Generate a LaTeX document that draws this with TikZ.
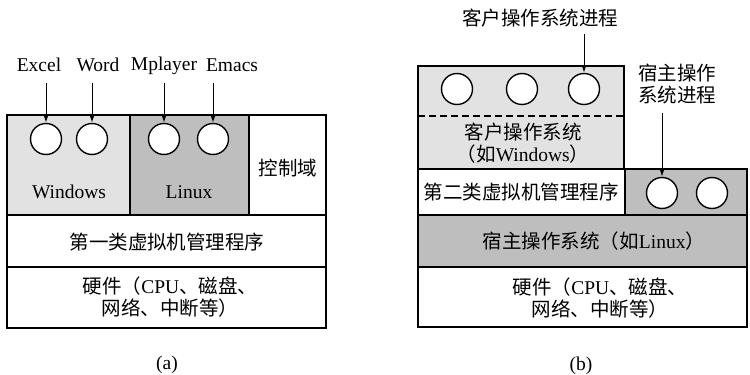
\documentclass[tikz,border=0pt]{standalone}
\usepackage{fontspec}
\setmainfont{Liberation Serif}
\newfontfamily\cjk{Noto Sans CJK SC}
\usetikzlibrary{arrows.meta}
\definecolor{lightg}{RGB}{226,226,226}
\definecolor{darkg}{RGB}{190,190,190}
\newcommand{\zhtxt}[1]{{\cjk #1}}
\begin{document}
\begin{tikzpicture}[x=1pt,y=-1pt,
  box/.style={draw,line width=1.4pt},
  proc/.style={circle,draw,fill=white,line width=1.4pt,minimum size=31pt,inner sep=0pt},
  lbl/.style={font=\fontsize{19.5}{22}\selectfont,align=center,inner sep=0pt},
  arr/.style={-{Latex[length=7pt,width=4.5pt]},line width=1pt}]
\useasboundingbox (0,0) rectangle (750,375);
% ---------- (a) ----------
\draw[box,fill=lightg] (7,115) rectangle (130,215);
\draw[box,fill=darkg] (130,115) rectangle (249,215);
\draw[box,fill=white] (249,115) rectangle (326,215);
\draw[box,fill=white] (7,215) rectangle (326,267);
\draw[box,fill=white] (7,267) rectangle (326,328);
\node[proc] (a1) at (46,139) {};
\node[proc] (a2) at (92,139) {};
\node[proc] (a3) at (164,139) {};
\node[proc] (a4) at (213,139) {};
\node[lbl] (lexcel) at (39,65) {Excel};
\node[lbl] (lword) at (98,65) {Word};
\node[lbl] (lmplayer) at (164,66) {Mplayer};
\node[lbl] (lemacs) at (232,65) {Emacs};
\coordinate (s1) at (46,83);
\coordinate (s2) at (92,83);
\coordinate (s3) at (164,83);
\coordinate (s4) at (213,83);
\draw[arr] (s1) -- (a1.north);
\draw[arr] (s2) -- (a2.north);
\draw[arr] (s3) -- (a3.north);
\draw[arr] (s4) -- (a4.north);
\node[lbl] (win) at (69,192) {Windows};
\node[lbl] (lin) at (189,192) {Linux};
\node[lbl] (ctrl) at (288,168) {\zhtxt{控制域}};
\node[lbl] (hv1) at (167,242) {\zhtxt{第一类虚拟机管理程序}};
\node[lbl] (hwa) at (170,297) {\zhtxt{硬件（}CPU\zhtxt{、磁盘、}\\\zhtxt{网络、中断等）}};
\node[lbl] (capa) at (167,365) {(a)};
% ---------- (b) ----------
\draw[box,fill=lightg] (418,66) rectangle (624,169);
\draw[line width=1.4pt,dash pattern=on 7pt off 4pt] (418,116) -- (624,116);
\draw[box,fill=white] (418,169) rectangle (625,215);
\draw[box,fill=darkg] (625,169) rectangle (747,215);
\draw[box,fill=darkg] (418,215) rectangle (747,267);
\draw[box,fill=white] (418,267) rectangle (747,327);
\node[proc] (b1) at (457,89) {};
\node[proc] (b2) at (522,89) {};
\node[proc] (b3) at (584,89) {};
\node[proc] (h1) at (662,193) {};
\node[proc] (h2) at (712,193) {};
\node[lbl] (gproc) at (540,18) {\zhtxt{客户操作系统进程}};
\coordinate (gs) at (584,34);
\draw[arr] (gs) -- (b3.north);
\node[lbl] (hproc) at (677,84) {\zhtxt{宿主操作}\\\zhtxt{系统进程}};
\coordinate (hs) at (662,113);
\draw[arr] (hs) -- (h1.north);
\node[lbl] (gos) at (523,143) {\zhtxt{客户操作系统}\\\zhtxt{（如}Windows\zhtxt{）}};
\node[lbl] (hv2) at (521,192) {\zhtxt{第二类虚拟机管理程序}};
\node[lbl] (hos) at (594,241) {\zhtxt{宿主操作系统（如}Linux\zhtxt{）}};
\node[lbl] (hwb) at (600,298) {\zhtxt{硬件（}CPU\zhtxt{、磁盘、}\\\zhtxt{网络、中断等）}};
\node[lbl] (capb) at (581,366) {(b)};
\end{tikzpicture}
\end{document}
